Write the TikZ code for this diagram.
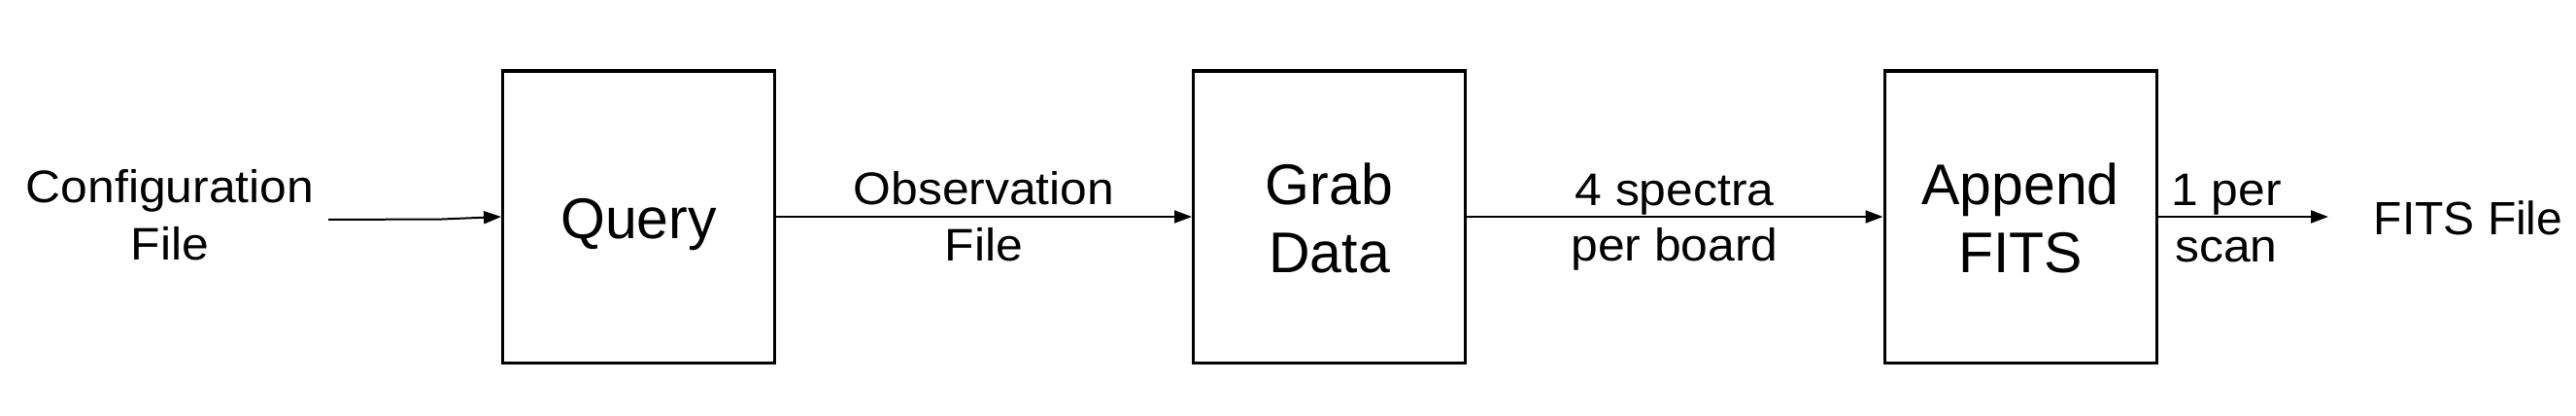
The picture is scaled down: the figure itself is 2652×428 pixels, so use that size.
\documentclass[tikz,border=0pt]{standalone}
\usepackage{fontspec}
\setmainfont{Liberation Sans}
\newfontfamily\lblfont[FakeStretch=1.06]{Liberation Sans}
\usetikzlibrary{arrows.meta}
\begin{document}
\begin{tikzpicture}[x=1pt,y=-1pt,
  blk/.style={draw, line width=3pt, minimum width=280pt, minimum height=300pt, inner sep=0pt},
  boxtxt/.style={anchor=base, inner sep=0pt, font=\fontsize{59}{70}\selectfont},
  lbl/.style={anchor=base, inner sep=0pt, font=\lblfont\fontsize{47}{57}\selectfont},
  conn/.style={line width=2pt, -{Triangle[length=18pt,width=13pt]}}]
\useasboundingbox (0,0) rectangle (2652,428);
% boxes
\node[blk] (query) at (657.5,223) {};
\node[blk] (grab) at (1368.5,223) {};
\node[blk] (append) at (2080,223) {};
% box texts
\node[boxtxt] (qtxt) at (657.5,245) {Query};
\node[boxtxt] (gtxt1) at (1368.5,210) {Grab};
\node[boxtxt] (gtxt2) at (1368.5,280) {Data};
\node[boxtxt] (atxt1) at (2080,210) {Append};
\node[boxtxt] (atxt2) at (2080,280) {FITS};
% labels
\node[lbl] (cfg1) at (175,208) {Configuration};
\node[lbl] (cfg2) at (175,267) {File};
\node[lbl] (obs1) at (1013,210) {Observation};
\node[lbl] (obs2) at (1013,268) {File};
\node[lbl] (sp1) at (1724,211) {4 spectra};
\node[lbl] (sp2) at (1724,268) {per board};
\node[lbl] (ps1) at (2292,211) {1 per};
\node[lbl] (ps2) at (2292,269) {scan};
\node[anchor=base, inner sep=0pt, font=\fontsize{48}{57}\selectfont] (fits) at (2541,241) {FITS File};
% connectors
\coordinate (cfgout) at (338,226);
\coordinate (cfgbend) at (455,225.5);
\coordinate (fitsin) at (2397,223);
\draw[conn] (cfgout) -- (cfgbend) -- (query.west);
\draw[conn] (query.east) -- (grab.west);
\draw[conn] (grab.east) -- (append.west);
\draw[conn] (append.east) -- (fitsin);
\end{tikzpicture}
\end{document}
